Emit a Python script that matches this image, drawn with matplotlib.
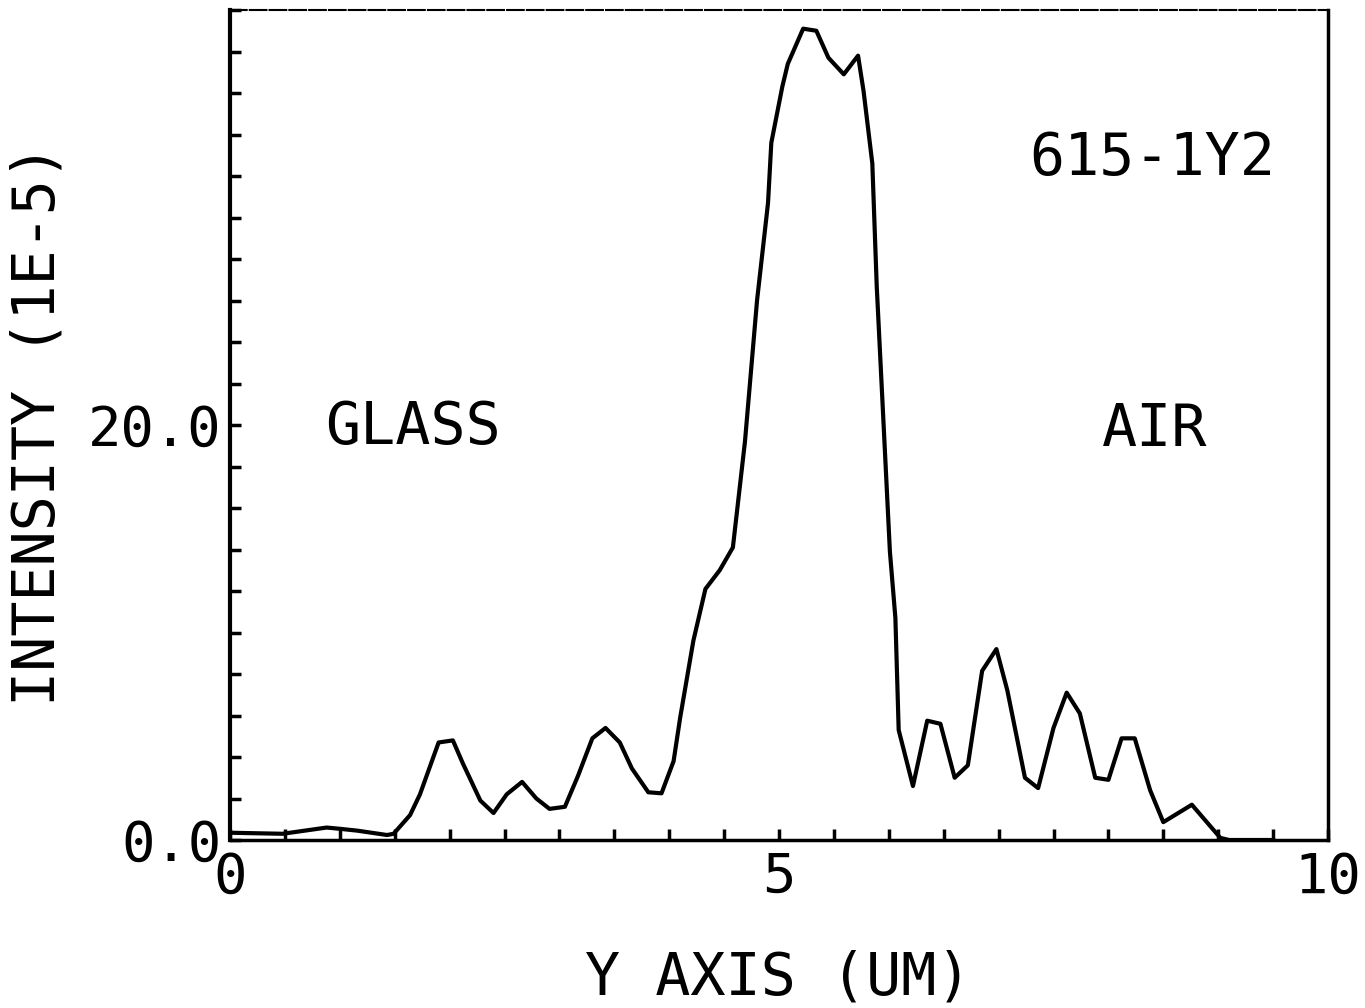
import numpy as np
import matplotlib.pyplot as plt
from matplotlib.ticker import MultipleLocator, FixedLocator

# traced profile: position (um) and intensity (1E-5)
y_pos = [0.0, 0.48, 0.88, 1.0, 1.16, 1.43, 1.49, 1.64, 1.73, 1.9, 2.03, 2.12,
         2.28, 2.4, 2.52, 2.66, 2.79, 2.91, 3.05, 3.17, 3.3, 3.42, 3.55, 3.66,
         3.81, 3.93, 4.04, 4.1, 4.22, 4.33, 4.46, 4.58, 4.69, 4.8, 4.9, 4.93,
         5.03, 5.08, 5.22, 5.34, 5.45, 5.59, 5.72, 5.77, 5.85, 5.89, 6.01,
         6.06, 6.09, 6.22, 6.35, 6.47, 6.6, 6.72, 6.85, 6.98, 7.08, 7.24, 7.36,
         7.5, 7.62, 7.74, 7.88, 8.0, 8.12, 8.24, 8.38, 8.5, 8.76, 9.02, 9.1,
         9.5]
intensity = [0.35, 0.3, 0.6, 0.54, 0.45, 0.24, 0.3, 1.2, 2.2, 4.7, 4.8, 3.7,
             1.9, 1.3, 2.2, 2.8, 2.0, 1.5, 1.6, 3.1, 4.9, 5.4, 4.7, 3.45,
             2.3, 2.25, 3.8, 5.9, 9.6, 12.1, 13.0, 14.1, 19.2, 26.0, 30.7, 33.6,
             36.3, 37.4, 39.1, 39.0, 37.7, 36.9, 37.8, 36.1, 32.6, 26.7, 13.9,
             10.7, 5.3, 2.6, 5.75, 5.6, 3.0, 3.6, 8.15, 9.2, 7.2, 3.0, 2.5,
             5.4, 7.1, 6.1, 3.0, 2.9, 4.9, 4.9, 2.4, 0.86, 1.7, 0.1, 0.0,
             0.0]

xticks = [0, 5, 10]
xticklabels = ['0', '5', '10']
yticks = [0, 20]
yticklabels = ['0.0', '20.0']

font = 'DejaVu Sans Mono'
fs = 40
fs_lab = 42

fig = plt.figure(figsize=(13.65, 10.08), dpi=100)
ax = fig.add_axes([230/1365, 1 - 840/1008, (1328-230)/1365, (840-10)/1008])

ax.plot(y_pos, intensity, color='black', lw=3)
ax.set_xlim(0, 10)
ax.set_ylim(0, 40)

ax.xaxis.set_major_locator(FixedLocator(xticks))
ax.set_xticklabels(xticklabels, family=font, fontsize=fs)
ax.xaxis.set_minor_locator(MultipleLocator(0.5))
ax.yaxis.set_major_locator(FixedLocator(yticks))
ax.set_yticklabels(yticklabels, family=font, fontsize=fs)
ax.yaxis.set_minor_locator(MultipleLocator(2))

ax.tick_params(axis='both', which='both', direction='in', length=8, width=2.5,
               top=False, right=False)
ax.tick_params(axis='x', which='major', pad=8)
ax.tick_params(axis='y', which='major', pad=6)

ax.spines['left'].set_linewidth(3)
ax.spines['bottom'].set_linewidth(2.5)
ax.spines['right'].set_linewidth(2.5)
ax.spines['top'].set_linewidth(1.5)
ax.spines['top'].set_linestyle((0, (8, 1.5)))

ax.text(8.4, 32.85, '615-1Y2', family=font, fontsize=fs_lab, ha='center', va='center')
ax.text(1.67, 19.9, 'GLASS', family=font, fontsize=fs_lab, ha='center', va='center')
ax.text(8.42, 19.76, 'AIR', family=font, fontsize=fs_lab, ha='center', va='center')

fig.text(778/1365, 1 - 978/1008, 'Y AXIS (UM)', family=font, fontsize=fs_lab,
         ha='center', va='center')
fig.text(38/1365, 1 - 425/1008, 'INTENSITY (1E-5)', family=font, fontsize=fs_lab,
         ha='center', va='center', rotation=90)

fig.savefig('out.png', dpi=100)
